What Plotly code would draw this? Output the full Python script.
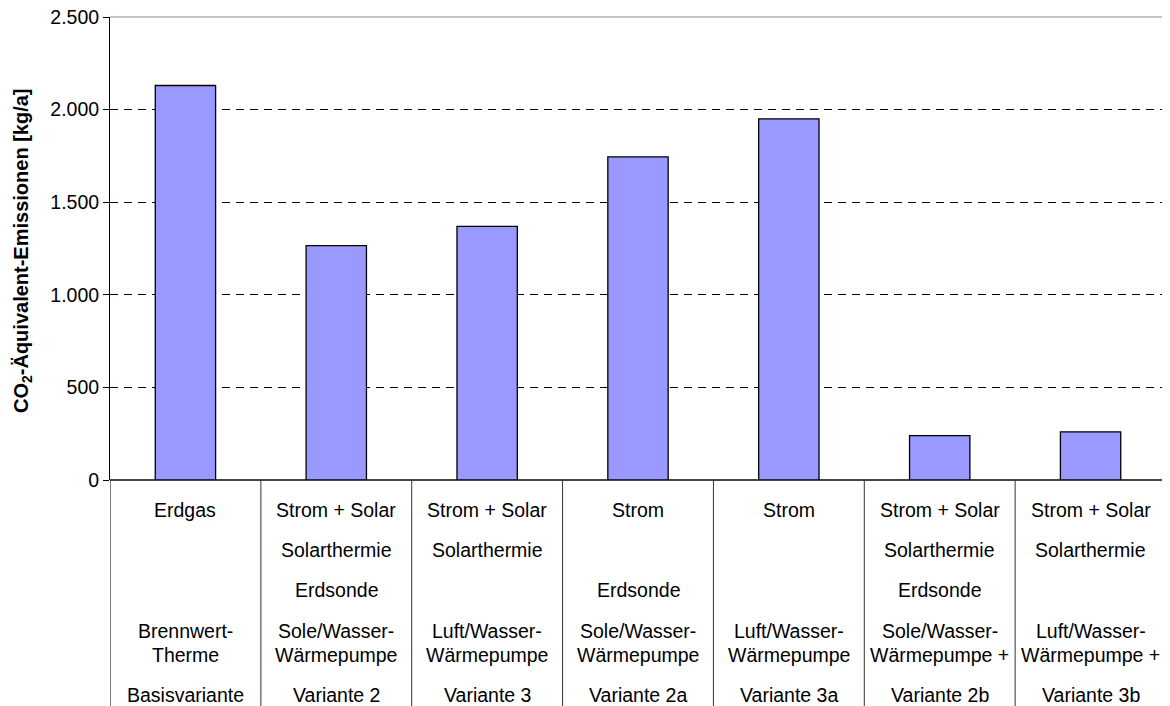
import plotly.graph_objects as go

variants = ["Basisvariante", "Variante 2", "Variante 3", "Variante 2a", "Variante 3a", "Variante 2b", "Variante 3b"]
values = [2130, 1265, 1370, 1745, 1950, 240, 260]
energy = ["Erdgas", "Strom + Solar", "Strom + Solar", "Strom", "Strom", "Strom + Solar", "Strom + Solar"]
solar = ["", "Solarthermie", "Solarthermie", "", "", "Solarthermie", "Solarthermie"]
source = ["", "Erdsonde", "", "Erdsonde", "", "Erdsonde", ""]
system_l1 = ["Brennwert-", "Sole/Wasser-", "Luft/Wasser-", "Sole/Wasser-", "Luft/Wasser-", "Sole/Wasser-", "Luft/Wasser-"]
system_l2 = ["Therme", "Wärmepumpe", "Wärmepumpe", "Wärmepumpe", "Wärmepumpe", "Wärmepumpe +", "Wärmepumpe +"]
y_ticks = [0, 500, 1000, 1500, 2000, 2500]

OFF = 8  # default page body margin
W, H = 1170 - OFF, 706 - OFF
ML, MR, MT, MB = 110 - OFF, 4, 17 - OFF, 226
PH = H - MT - MB
FONT = "Liberation Sans, Arial, sans-serif"
FS = 19.5

fig = go.Figure(go.Bar(
    x=list(range(len(variants))), y=values,
    width=0.40,
    marker=dict(color="#9999FF", line=dict(color="#000000", width=1.3)),
    hoverinfo="skip",
))

def py(page_y):
    return (H - MB - (page_y - OFF)) / PH

rows = [(energy, 510), (solar, 550), (source, 590), (system_l1, 631), (system_l2, 655), (variants, 695)]
ann = []
for lst, ypx in rows:
    for i, t in enumerate(lst):
        if t:
            ann.append(dict(x=i, y=py(ypx), xref="x", yref="paper", text=t, showarrow=False,
                            xanchor="center", yanchor="middle", font=dict(size=FS, color="#000", family=FONT)))

ann.append(dict(x=0, xref="paper", xshift=-(110 - 22), y=py(251), yref="paper",
                text="<b>CO<sub>2</sub>-Äquivalent-Emissionen [kg/a]</b>", textangle=-90,
                showarrow=False, xanchor="center", yanchor="middle",
                font=dict(size=20, color="#000", family=FONT)))

shapes = []
for i in range(1, len(variants)):
    shapes.append(dict(type="line", xref="x", yref="paper", x0=i - 0.5, x1=i - 0.5,
                       y0=0, y1=py(720), line=dict(color="#333333", width=1)))
shapes.append(dict(type="line", xref="x", yref="paper", x0=-0.5, x1=-0.5,
                   y0=0, y1=py(720), line=dict(color="#000000", width=1)))
shapes.append(dict(type="line", xref="paper", yref="paper", x0=0, x1=1, y0=1, y1=1,
                   line=dict(color="#888888", width=1)))

fig.update_layout(
    width=W, height=H,
    margin=dict(l=ML, r=MR, t=MT, b=MB, pad=0, autoexpand=False),
    plot_bgcolor="white", paper_bgcolor="white",
    separators=",.",
    showlegend=False,
    font=dict(family=FONT, size=FS, color="#000"),
    annotations=ann, shapes=shapes,
    xaxis=dict(range=[-0.5, len(variants) - 0.5], showticklabels=False, showgrid=False,
               zeroline=False, showline=False, ticks="", automargin=False),
    yaxis=dict(range=[0, 2500], tickvals=y_ticks, tickformat=",d", ticks="outside", ticklen=6,
               tickcolor="#000", showline=True, linecolor="#000", linewidth=1,
               showgrid=True, gridcolor="#000", gridwidth=1, griddash="8px,6px",
               zeroline=True, zerolinecolor="#444444", zerolinewidth=1.5,
               ticklabeloverflow="allow", automargin=False,
               tickfont=dict(size=FS, family=FONT)),
)

fig.write_html("out.html")
